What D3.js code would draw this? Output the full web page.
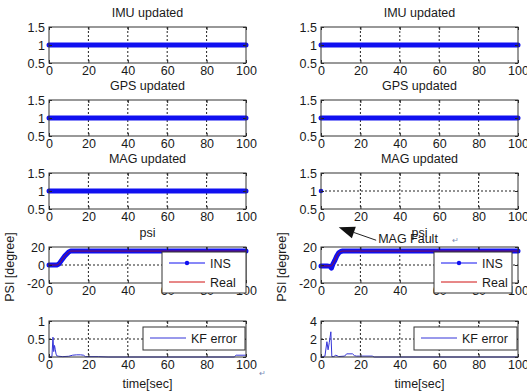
<!DOCTYPE html>
<html>
<head>
<meta charset="utf-8">
<script src="https://cdn.jsdelivr.net/npm/d3@7"></script>
<style>
  body { margin: 0; background: #fff; }
  svg text { font-family: "Liberation Sans", Arial, sans-serif; fill: #1a1a1a; }
</style>
</head>
<body>
<div id="chart"></div>
<script>
// ---- data ----
const xTicks = [0, 20, 40, 60, 80, 100];
const flagTicks = [0.5, 1, 1.5];
const psiTicks = [-20, 0, 20];
const errTicksL = [0, 0.5, 1];
const errTicksR = [0, 2, 4];

// update flags (1 = measurement used)
const updT = [0, 100];
const imuUpd = [1, 1];
const gpsUpd = [1, 1];
const magUpd = [1, 1];
const magFaultT = [0];      // right column: MAG only updated at start
const magFaultUpd = [1];

// heading psi [deg]
const psiT_L = [0, 4, 5, 6, 8, 10, 11, 100];
const insPsi_L = [0, 0, 1, 4, 10, 14.5, 15.5, 15.5];
const realPsi_L = [0, 0, 1, 4, 10, 14.5, 15.5, 15.5];
const psiT_R = [0, 3, 4.5, 5.3, 6, 7, 8, 9, 10, 11, 100];
const insPsi_R = [-1, -1, -1.5, -3.5, 1, 5, 10, 13.5, 15, 15.5, 15.5];
const realPsi_R = [-1, -1, -1, -1, 1, 5, 10, 13.5, 15, 15.5, 15.5];

// KF error
const errT_L = [0, 1.5, 2, 2.4, 2.8, 3.2, 3.6, 4, 5, 7, 10, 12, 14, 16, 17.5, 18.5, 25, 30, 60, 94, 95, 100];
const errV_L = [0, 0.02, 0.55, 0.15, 0.32, 0.2, 0.08, 0.03, 0.02, 0.01, 0.02, 0.05, 0.06, 0.06, 0.05, 0.01, 0.01, 0, 0, 0, 0.05, 0.05];
const errT_R = [0, 2, 3, 3.6, 4.2, 5, 5.5, 6.5, 7.5, 9, 12, 13, 16, 17, 18, 26, 27, 100];
const errV_R = [0, 0.1, 1.7, 0.8, 1.6, 2.8, 0.05, 0.05, 0.2, 0.05, 0.1, 0.35, 0.35, 0.15, 0.1, 0.1, 0, 0];

const titles = ['IMU updated', 'GPS updated', 'MAG updated', 'psi', ''];

// ---- layout ----
const W = 527, H = 391;
const colLeft = [49, 321];
const plotW = 197, plotH = 36;
const rowTop = [27, 100, 173, 247, 321];
const FS = 12.5;

const svg = d3.select('#chart').append('svg')
  .attr('width', W).attr('height', H);

function panel(col, row, yDomain, yTicks, gridY) {
  const x = d3.scaleLinear().domain([0, 100]).range([colLeft[col], colLeft[col] + plotW]);
  const y = d3.scaleLinear().domain(yDomain).range([rowTop[row] + plotH, rowTop[row]]);
  const g = svg.append('g');

  g.append('rect')
    .attr('x', x.range()[0]).attr('y', rowTop[row])
    .attr('width', plotW).attr('height', plotH)
    .attr('fill', '#fff');

  // dashed grid
  g.selectAll('.vgrid').data(xTicks.slice(1, -1)).enter().append('line')
    .attr('x1', d => x(d)).attr('x2', d => x(d))
    .attr('y1', y.range()[1]).attr('y2', y.range()[0])
    .attr('stroke', '#222').attr('stroke-dasharray', '2,2');
  g.append('line')
    .attr('x1', x.range()[0]).attr('x2', x.range()[1])
    .attr('y1', y(gridY)).attr('y2', y(gridY))
    .attr('stroke', '#222').attr('stroke-dasharray', '2,2');

  const data = svg.append('g');
  const top = svg.append('g');
  const fmt = d => String(d);

  // axes (ticks inside, MATLAB style)
  top.append('g')
    .attr('transform', `translate(0,${y.range()[0]})`)
    .call(d3.axisBottom(x).tickValues(xTicks).tickFormat(fmt).tickSizeInner(-3).tickSizeOuter(0).tickPadding(3))
    .call(a => a.select('.domain').remove());
  top.append('g')
    .attr('transform', `translate(0,${y.range()[1]})`)
    .call(d3.axisTop(x).tickValues(xTicks).tickSizeInner(-3).tickSizeOuter(0).tickFormat(''))
    .call(a => a.select('.domain').remove());
  top.append('g')
    .attr('transform', `translate(${x.range()[0]},0)`)
    .call(d3.axisLeft(y).tickValues(yTicks).tickFormat(fmt).tickSizeInner(-3).tickSizeOuter(0).tickPadding(4))
    .call(a => a.select('.domain').remove());
  top.append('g')
    .attr('transform', `translate(${x.range()[1]},0)`)
    .call(d3.axisRight(y).tickValues(yTicks).tickSizeInner(-3).tickSizeOuter(0).tickFormat(''))
    .call(a => a.select('.domain').remove());
  top.selectAll('.tick text').attr('font-size', FS).attr('font-family', '"Liberation Sans", Arial, sans-serif');
  top.selectAll('.tick line').attr('stroke', '#222');

  top.append('rect')
    .attr('x', x.range()[0]).attr('y', rowTop[row])
    .attr('width', plotW).attr('height', plotH)
    .attr('fill', 'none').attr('stroke', '#333');

  if (titles[row]) {
    svg.append('text')
      .attr('x', x.range()[0] + plotW / 2).attr('y', rowTop[row] - 10)
      .attr('text-anchor', 'middle').attr('font-size', FS)
      .text(titles[row]);
  }
  return { x, y, data, top };
}

function line(p, T, V, color, width) {
  p.data.append('path')
    .datum(T.map((t, i) => [t, V[i]]))
    .attr('fill', 'none').attr('stroke', color).attr('stroke-width', width)
    .attr('stroke-linecap', 'round').attr('stroke-linejoin', 'round')
    .attr('d', d3.line().x(d => p.x(d[0])).y(d => p.y(d[1])));
}

function legend(p, x0, y0, w, h, items) {
  const g = svg.append('g');
  g.append('rect').attr('x', x0).attr('y', y0).attr('width', w).attr('height', h)
    .attr('fill', '#fff').attr('stroke', '#333');
  items.forEach((it, i) => {
    const yy = y0 + 11 + i * 19;
    g.append('line').attr('x1', x0 + 7).attr('x2', x0 + 43).attr('y1', yy).attr('y2', yy)
      .attr('stroke', it.color).attr('stroke-width', 1);
    if (it.dot) g.append('circle').attr('cx', x0 + 25).attr('cy', yy).attr('r', 2.2).attr('fill', it.color);
    g.append('text').attr('x', x0 + 48).attr('y', yy + 4.5).attr('font-size', FS).text(it.label);
  });
}

const BLUE = '#1010f0';

[0, 1].forEach(col => {
  const imu = panel(col, 0, [0.5, 1.5], flagTicks, 1);
  line(imu, updT, imuUpd, BLUE, 5);
  const gps = panel(col, 1, [0.5, 1.5], flagTicks, 1);
  line(gps, updT, gpsUpd, BLUE, 5);
  const mag = panel(col, 2, [0.5, 1.5], flagTicks, 1);
  if (col === 0) line(mag, updT, magUpd, BLUE, 5);
  else mag.data.selectAll('circle').data(magFaultT).enter().append('circle')
    .attr('cx', d => mag.x(d)).attr('cy', (d, i) => mag.y(magFaultUpd[i])).attr('r', 2.3).attr('fill', BLUE);

  const psi = panel(col, 3, [-20, 20], psiTicks, 0);
  line(psi, col ? psiT_R : psiT_L, col ? insPsi_R : insPsi_L, BLUE, 5);
  line(psi, col ? psiT_R : psiT_L, col ? realPsi_R : realPsi_L, '#80104a', 1);

  const err = panel(col, 4, col ? [0, 4] : [0, 1], col ? errTicksR : errTicksL, col ? 2 : 0.5);
  line(err, col ? errT_R : errT_L, col ? errV_R : errV_L, '#3535d8', 1);

  const cx = colLeft[col] + plotW / 2;
  svg.append('text').attr('transform', `translate(${colLeft[col] - 35},${rowTop[3] + plotH / 2 + 2}) rotate(-90)`)
    .attr('text-anchor', 'middle').attr('font-size', FS).text('PSI  [degree]');
  svg.append('text').attr('x', cx).attr('y', 388)
    .attr('text-anchor', 'middle').attr('font-size', FS).text('time[sec]');

  if (col === 0) {
    legend(psi, 162, 252, 84, 41, [{ label: 'INS', color: BLUE, dot: true }, { label: 'Real', color: '#d01010' }]);
    legend(err, 143, 327, 102, 23, [{ label: 'KF error', color: '#3535d8' }]);
  } else {
    legend(psi, 434, 252, 78, 41, [{ label: 'INS', color: BLUE, dot: true }, { label: 'Real', color: '#d01010' }]);
    legend(err, 414, 327, 103, 23, [{ label: 'KF error', color: '#3535d8' }]);

    // MAG fault annotation, placed in the psi panel's data units
    const tip = [psi.x(9), psi.y(42)];
    const tail = [psi.x(28), psi.y(27.5)];
    const ang = Math.atan2(tail[1] - tip[1], tail[0] - tip[0]);
    const L = 16, hw = 6;
    const bx = tip[0] + L * Math.cos(ang), by = tip[1] + L * Math.sin(ang);
    svg.append('line').attr('x1', bx).attr('y1', by).attr('x2', tail[0]).attr('y2', tail[1])
      .attr('stroke', '#222').attr('stroke-width', 1);
    svg.append('path')
      .attr('d', `M${tip[0]},${tip[1]}L${bx - hw * Math.sin(ang)},${by + hw * Math.cos(ang)}L${bx + hw * Math.sin(ang)},${by - hw * Math.cos(ang)}Z`)
      .attr('fill', '#111');
    svg.append('text').attr('x', psi.x(29)).attr('y', psi.y(24.5))
      .attr('font-family', '"Liberation Serif", "Times New Roman", serif').attr('font-size', 12.5)
      .text('MAG Fault');
    svg.append('text').attr('x', psi.x(66.5)).attr('y', psi.y(24.5))
      .attr('font-family', '"DejaVu Sans", sans-serif').attr('font-size', 8).style('fill', '#7c8cb8')
      .text('↵');
  }
});

svg.append('text').attr('x', 259).attr('y', 376)
  .attr('font-family', '"DejaVu Sans", sans-serif').attr('font-size', 8).style('fill', '#7c8cb8')
  .text('↵');
</script>
</body>
</html>
